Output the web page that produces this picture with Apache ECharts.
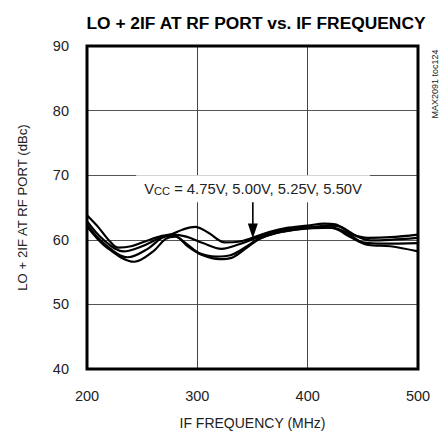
<!DOCTYPE html>
<html><head><meta charset="utf-8">
<script src="https://cdn.jsdelivr.net/npm/echarts@6/dist/echarts.min.js"></script>
<style>html,body{margin:0;padding:0;background:#fff}#c{width:442px;height:435px}</style>
</head><body><div id="c"></div>
<script>
const FONT = "'Liberation Sans',Arial,sans-serif";
const titleText = 'LO + 2IF AT RF PORT vs. IF FREQUENCY';
const xName = 'IF FREQUENCY (MHz)';
const yName = 'LO + 2IF AT RF PORT (dBc)';
const tocText = 'MAX2091 toc124';
const xTicks = [200, 300, 400, 500];
const yTicks = [40, 50, 60, 70, 80, 90];

// four supply-voltage curves (MHz, dBc)
const curveA = [[200,63.8],[210,62.0],[220,59.9],[228,58.8],[240,59.0],[255,59.9],[268,60.6],[277,60.9],[287,61.6],[298,62.0],[310,61.1],[325,59.6],[337,59.7],[350,60.3],[365,61.2],[380,61.8],[400,62.2],[415,62.5],[425,62.4],[440,60.9],[455,60.3],[475,60.4],[500,60.8]];
const curveB = [[200,62.9],[215,60.0],[233,58.2],[250,59.0],[265,60.2],[277,60.8],[290,60.5],[305,59.5],[322,58.6],[338,59.3],[352,60.2],[365,61.0],[380,61.6],[400,61.9],[420,62.2],[430,62.0],[445,60.5],[457,59.9],[475,60.0],[500,60.3]];
const curveC = [[200,62.4],[215,59.5],[237,57.3],[255,58.6],[268,60.3],[278,60.7],[290,59.4],[302,57.9],[317,57.4],[330,57.6],[345,59.0],[355,60.1],[370,61.0],[385,61.5],[405,61.8],[422,61.9],[436,61.0],[450,59.6],[470,59.4],[500,59.5]];
const curveD = [[200,62.1],[218,58.8],[243,56.6],[260,58.2],[271,60.1],[280,60.5],[292,58.9],[305,57.6],[320,57.0],[331,57.2],[345,58.8],[357,60.2],[370,61.0],[390,61.6],[410,62.0],[425,61.7],[440,60.3],[455,59.2],[475,59.0],[500,58.2]];
const curves = [curveA, curveB, curveC, curveD];

const annoMain = 'V', annoSub = 'CC', annoLabel = ' = 4.75V, 5.00V, 5.25V, 5.50V';
const annoCoord = [350.5, 67.9];
const arrowCoord = [350.3, 63.45];

const mctx = document.createElement('canvas').getContext('2d');
function measure(text, size, weight){mctx.font=(weight||'normal')+' '+size+'px '+FONT;return mctx.measureText(text).width;}
const titleSize = 20 * 340 / measure(titleText, 20, 'bold');
const k = 218 / (measure(annoMain,16)+measure(annoSub,12)+measure(annoLabel,16));

const chart = echarts.init(document.getElementById('c'), null, {renderer:'svg'});
const axisLabelStyle = {color:'#222', fontFamily:FONT, fontSize:14.5};
const series = curves.map(d=>({type:'line', data:d, smooth:0.35, symbol:'none', z:3,
    lineStyle:{color:'#000', width:2.2}}));
series[0].markPoint = {silent:true, animation:false, data:[
  {coord:arrowCoord, symbol:'path://M4.2,0 L5.8,0 L5.8,27 L10,27 L5,42 L0,27 L4.2,27 Z', symbolSize:[10,42],
    itemStyle:{color:'#000'}, label:{show:false}},
  {coord:annoCoord, symbol:'rect', symbolSize:1, itemStyle:{color:'rgba(0,0,0,0)'},
    label:{show:true, position:'inside', backgroundColor:'#fff', padding:[6,8,6,8],
      formatter:'{v|'+annoMain+'}{s|'+annoSub+'}{v|'+annoLabel+'}',
      rich:{v:{fontFamily:FONT, fontSize:16*k, color:'#222', verticalAlign:'bottom'},
            s:{fontFamily:FONT, fontSize:12*k, color:'#222', verticalAlign:'bottom'}}}}
]};
chart.setOption({
  animation:false,
  backgroundColor:'#fff',
  title:{text:titleText, left:251, top:9, textAlign:'center',
    textStyle:{fontFamily:FONT, fontWeight:'bold', fontSize:titleSize, color:'#000'}},
  grid:{left:87, right:24, top:46, bottom:59, show:true, borderColor:'#000', borderWidth:3, z:5},
  xAxis:{type:'value', min:200, max:500, interval:100,
    name:xName, nameLocation:'middle', nameGap:47, nameTextStyle:{fontFamily:FONT, fontSize:14, color:'#222'},
    axisLine:{show:false}, axisTick:{show:false},
    axisLabel:Object.assign({margin:19, formatter:v=>xTicks.includes(v)?String(v):''}, axisLabelStyle),
    splitLine:{show:true, lineStyle:{color:'#444', width:1}}},
  yAxis:{type:'value', min:40, max:90, interval:10,
    name:yName, nameLocation:'middle', nameGap:58, nameRotate:90, nameTextStyle:{fontFamily:FONT, fontSize:13.2, color:'#222'},
    axisLine:{show:false}, axisTick:{show:false},
    axisLabel:Object.assign({margin:18, formatter:v=>yTicks.includes(v)?String(v):''}, axisLabelStyle),
    splitLine:{show:true, lineStyle:{color:'#555', width:1}}},
  graphic:[{type:'text', z:11, x:435, y:84, rotation:Math.PI/2,
    style:{text:tocText, align:'center', verticalAlign:'middle', fontFamily:FONT, fontSize:9, fill:'#222'}}],
  series: series
});
</script></body></html>
